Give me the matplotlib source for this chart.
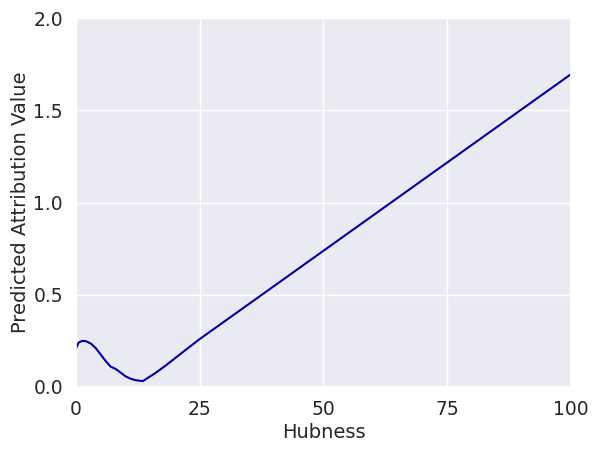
import matplotlib
matplotlib.use("Agg")
import matplotlib.pyplot as plt
import seaborn as sns

hubness = [0, 0.5, 1.2, 2, 3, 4, 5, 6, 7, 8, 9, 10, 11, 12, 13.5, 15, 16, 18, 20, 22, 25, 100]
attribution = [0.21, 0.24, 0.25, 0.248, 0.235, 0.21, 0.175, 0.14, 0.11, 0.098, 0.078,
               0.058, 0.045, 0.037, 0.032, 0.058, 0.075, 0.114, 0.156, 0.198, 0.26, 1.695]

sns.set_theme(style="darkgrid")
plt.rcParams['font.family'] = ['DejaVu Sans']

fig, ax = plt.subplots(figsize=(5.99, 4.5), dpi=100)
fig.subplots_adjust(left=0.127, right=0.953, top=0.96, bottom=0.14)
ax.plot(hubness, attribution, color="#0000aa", linewidth=1.5)
ax.set_xlim(0, 100)
ax.set_ylim(0, 2.0)
ax.set_xticks([0, 25, 50, 75, 100])
ax.set_yticks([0, 0.5, 1.0, 1.5, 2.0])
ax.tick_params(labelsize=13.5)
ax.set_xlabel("Hubness", fontsize=14, labelpad=3)
ax.set_ylabel("Predicted Attribution Value", fontsize=14, labelpad=2)
fig.savefig("out.png", dpi=100)
